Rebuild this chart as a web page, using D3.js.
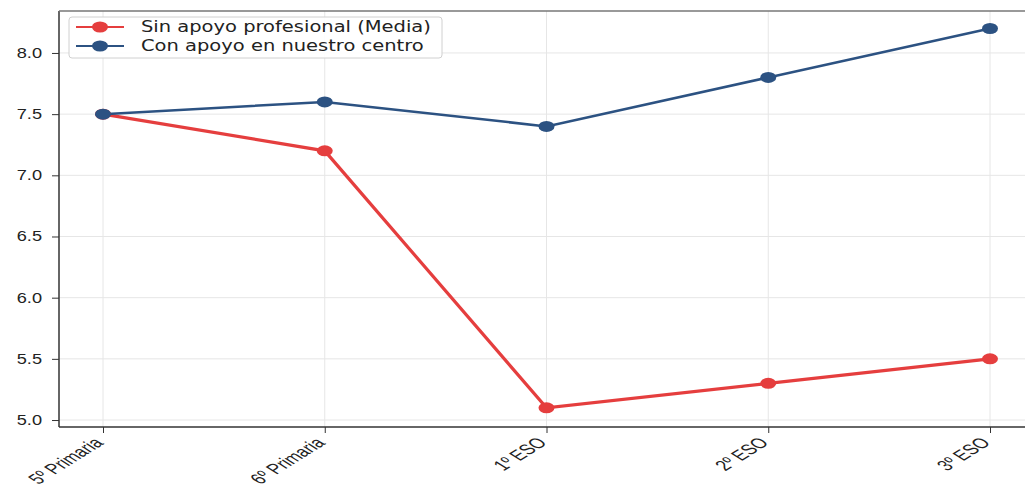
<!DOCTYPE html>
<html>
<head>
<meta charset="utf-8">
<script src="https://cdn.jsdelivr.net/npm/d3@7"></script>
<style>
  body { margin: 0; background: #fff; }
  svg { display: block; font-family: "DejaVu Sans", sans-serif; }
</style>
</head>
<body>
<div id="chart"></div>
<script>
const cursos = ['5º Primaria', '6º Primaria', '1º ESO', '2º ESO', '3º ESO'];
const sinApoyo = [7.5, 7.2, 5.1, 5.3, 5.5];
const conApoyo = [7.5, 7.6, 7.4, 7.8, 8.2];
const yTicks = [5.0, 5.5, 6.0, 6.5, 7.0, 7.5, 8.0];

const series = [
    { name: 'Sin apoyo profesional (Media)', values: sinApoyo, color: '#e53e3e', width: 3.2 },
    { name: 'Con apoyo en nuestro centro', values: conApoyo, color: '#2c5282', width: 2.5 }
];

const width = 1025, height = 486;
const plotLeft = 59, plotRight = 1030, plotTop = 11, plotBottom = 427;
const stretch = 1.6; // the picture is wider than tall, text and dots come out stretched

const svg = d3.select('#chart').append('svg')
    .attr('width', width)
    .attr('height', height);

const x = d3.scalePoint().domain(cursos).range([103, 990]);
const y = d3.scaleLinear().domain([4.943, 8.343]).range([plotBottom, plotTop]);

// grid
svg.append('g').selectAll('line')
    .data(yTicks).enter().append('line')
    .attr('x1', plotLeft).attr('x2', plotRight)
    .attr('y1', d => y(d)).attr('y2', d => y(d))
    .attr('stroke', '#e6e6e6').attr('stroke-width', 1);
svg.append('g').selectAll('line')
    .data(cursos).enter().append('line')
    .attr('x1', d => x(d)).attr('x2', d => x(d))
    .attr('y1', plotTop).attr('y2', plotBottom)
    .attr('stroke', '#e6e6e6').attr('stroke-width', 1);

// axes
const yAxis = svg.append('g')
    .attr('transform', `translate(${plotLeft},0)`)
    .call(d3.axisLeft(y).tickValues(yTicks).tickFormat(d3.format('.1f')).tickSize(7));
yAxis.select('.domain').remove();
yAxis.selectAll('line').attr('stroke', '#333');
yAxis.selectAll('text')
    .attr('x', 0)
    .attr('font-size', 14).attr('fill', '#222')
    .attr('transform', 'translate(-17,0) scale(1.3,1)');

const xAxis = svg.append('g')
    .attr('transform', `translate(0,${plotBottom})`)
    .call(d3.axisBottom(x).tickSize(6));
xAxis.select('.domain').remove();
xAxis.selectAll('line').attr('stroke', '#333');
xAxis.selectAll('text')
    .attr('x', 0).attr('y', 0)
    .attr('font-size', 12.5).attr('fill', '#222')
    .attr('text-anchor', 'end')
    .attr('dy', '0.35em')
    .attr('transform', `translate(-5,13) scale(${stretch},1) rotate(-45) scale(0.95,1.2)`);

// spines
svg.append('line').attr('x1', plotLeft).attr('x2', plotLeft).attr('y1', plotTop).attr('y2', plotBottom)
    .attr('stroke', '#333').attr('stroke-width', 1.5);
svg.append('line').attr('x1', plotLeft).attr('x2', plotRight).attr('y1', plotBottom).attr('y2', plotBottom)
    .attr('stroke', '#333').attr('stroke-width', 1.5);
svg.append('line').attr('x1', plotLeft).attr('x2', plotRight).attr('y1', plotTop).attr('y2', plotTop)
    .attr('stroke', '#777').attr('stroke-width', 1.5);

// lines
const line = d3.line().x((d, i) => x(cursos[i])).y(d => y(d));

series.forEach(s => {
    svg.append('path')
        .datum(s.values)
        .attr('d', line)
        .attr('fill', 'none')
        .attr('stroke', s.color)
        .attr('stroke-width', s.width);
});
series.forEach(s => {
    svg.append('g').selectAll('ellipse')
        .data(s.values).enter().append('ellipse')
        .attr('cx', (d, i) => x(cursos[i]))
        .attr('cy', d => y(d))
        .attr('rx', 8).attr('ry', 5.5)
        .attr('fill', s.color);
});

// legend
const legend = svg.append('g').attr('transform', 'translate(69,17)');
legend.append('rect')
    .attr('width', 373).attr('height', 41).attr('rx', 3)
    .attr('fill', '#fff').attr('fill-opacity', 0.9)
    .attr('stroke', '#d0d0d0');
series.forEach((s, i) => {
    const g = legend.append('g').attr('transform', `translate(0,${10 + i * 19})`);
    g.append('line').attr('x1', 7).attr('x2', 55).attr('stroke', s.color).attr('stroke-width', 2);
    g.append('ellipse').attr('cx', 31).attr('rx', 8).attr('ry', 5.5).attr('fill', s.color);
    g.append('text').attr('x', 0).attr('dy', '0.35em')
        .attr('transform', 'translate(72,0) scale(1.3,1)')
        .attr('font-size', 15).attr('fill', '#222')
        .text(s.name);
});
</script>
</body>
</html>
